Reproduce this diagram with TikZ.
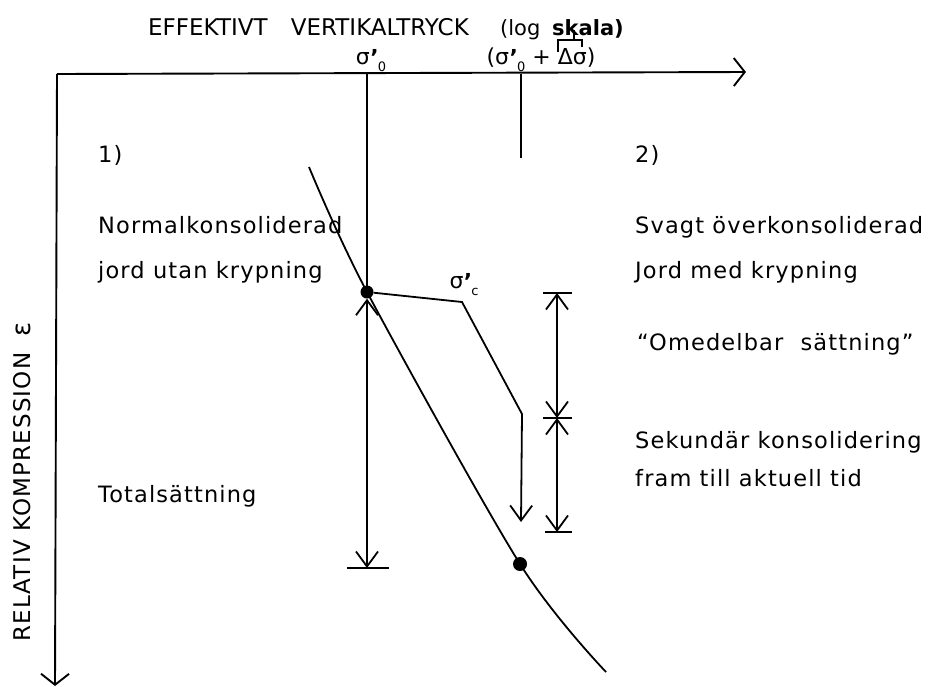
\documentclass[tikz,border=0pt]{standalone}
\usepackage{fontspec}
\setmainfont{DejaVu Sans}[LetterSpace=5]
\usetikzlibrary{arrows.meta}
\newcommand{\sigp}[1]{σ\kern0.02em\raisebox{-0.06em}{\bfseries ’}\kern-0.04em\raisebox{-0.32em}{\fontsize{13}{13}\selectfont #1}}
\tikzset{
  lbl/.style={font=\fontsize{22.5}{26}\selectfont, inner sep=0pt, anchor=base west},
  ttl/.style={font=\fontsize{23}{26}\selectfont\addfontfeatures{LetterSpace=0}, inner sep=0pt, anchor=base west},
  ttls/.style={font=\fontsize{21}{26}\selectfont\addfontfeatures{LetterSpace=0}, inner sep=0pt, anchor=base west},
  sig/.style={font=\fontsize{22}{26}\selectfont\addfontfeatures{LetterSpace=0}, inner sep=0pt, anchor=base},
  axisline/.style={line width=1.9pt},
  thin/.style={line width=1.8pt},
  axtip/.tip={Straight Barb[length=11pt,width=28pt]},
  dimtip/.tip={Straight Barb[length=15pt,width=22pt]},
  dotnode/.style={circle, fill=black, inner sep=0pt, minimum size=#1},
}
\begin{document}
\begin{tikzpicture}[x=1pt,y=-1pt]
\useasboundingbox (0,0) rectangle (933,686);
% axes
\coordinate (O) at (57,74);
\coordinate (xend) at (746,72);
\coordinate (yend) at (55,686);
\draw[axisline,-axtip] (O) -- (xend);
\draw[axisline,-axtip] (O) -- (yend);
% axis title
\node[ttl] (t1) at (148,35) {EFFEKTIVT};
\node[ttl,anchor=base east] (t2) at (469,35) {VERTIKALTRYCK};
\node[ttls] (t3) at (500,35) {(log};
\node[ttls,anchor=base east] (t4) at (624,35) {\textbf{skala)}};
\draw[thin] (558,52) -- (558,40) -- (582,40) -- (582,47);
\draw[thin] (574,30) -- (574,40);
% vertical axis label
\node[font=\fontsize{23}{26}\selectfont, rotate=90, inner sep=0pt] (ylab) at (22,482) {RELATIV KOMPRESSION\hspace{0.7em}{\fontsize{26}{26}\selectfont ε}};
% sigma labels on axis
\node[sig] (s0) at (371,64) {\sigp{0}};
\node[sig] (s1) at (541,64) {(\sigp{0} + Δσ)};
% key points
\coordinate (s0ax) at (367,74);
\coordinate (s1ax) at (521,74);
\coordinate (s1end) at (521,158);
\coordinate (c0) at (309,167);
\coordinate (pA) at (367,292);
\coordinate (pB) at (520,564);
\coordinate (c3) at (606,672);
\coordinate (totBot) at (367,568);
\coordinate (sc) at (462,302);
\coordinate (bend) at (522,414);
\coordinate (tipC) at (521,522);
\coordinate (dimTop) at (557,293);
\coordinate (dimMid) at (557,418);
\coordinate (dimBot) at (557,532);
% vertical lines from axis
\draw[thin] (s0ax) -- (pA);
\draw[thin] (s1ax) -- (s1end);
% compression curve
\draw[thin] plot[smooth, tension=0.5] coordinates {(c0) (pA) (pB) (c3)};
\node[dotnode=13pt] (dotA) at (pA) {};
\node[dotnode=14pt] (dotB) at (pB) {};
% total settlement
\draw[thin,dimtip-dimtip] (dotA.south) -- (totBot);
\draw[thin] (347,568) -- (389,568);
% creep path
\draw[thin,-dimtip] (dotA) -- (sc) -- (bend) -- (tipC);
\node[sig] (sclab) at (464,288) {\sigp{c}};
% dimension arrows
\draw[thin,dimtip-dimtip] (dimTop) -- (dimMid);
\draw[thin,dimtip-dimtip] (dimMid) -- (dimBot);
\draw[thin] (543,293) -- (572,293);
\draw[thin] (543,418) -- (572,418);
\draw[thin] (545,532) -- (572,532);
% left texts
\node[lbl] (n1) at (98,162) {1)};
\node[lbl] (n2) at (98,233) {Normalkonsoliderad};
\node[lbl] (n3) at (98,278) {jord utan krypning};
\node[lbl] (n4) at (98,502) {Totalsättning};
% right texts
\node[lbl] (m1) at (635,162) {2)};
\node[lbl] (m2) at (635,233) {Svagt överkonsoliderad};
\node[lbl] (m3) at (635,278) {Jord med krypning};
\node[lbl] (m4) at (637,350) {“Omedelbar\hspace{0.4em} sättning”};
\node[lbl] (m5) at (635,448) {Sekundär konsolidering};
\node[lbl] (m6) at (635,486) {fram till aktuell tid};
\end{tikzpicture}
\end{document}
